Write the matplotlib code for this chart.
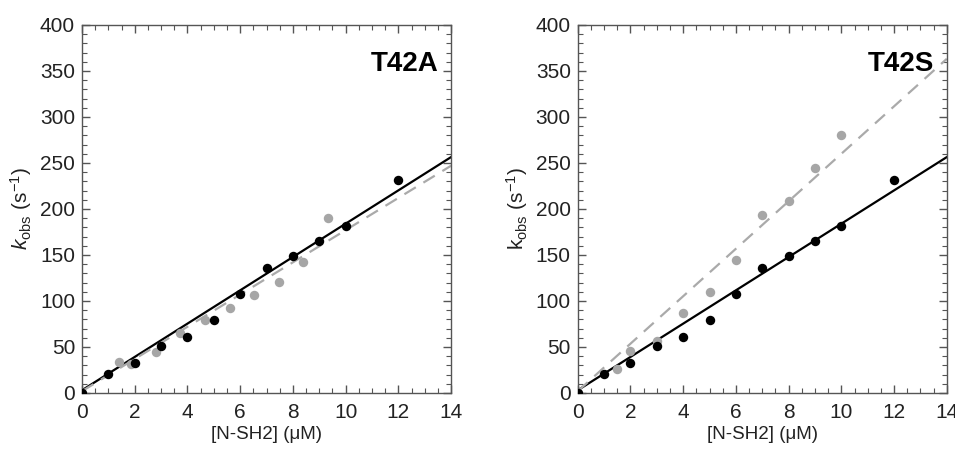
import numpy as np
import matplotlib.pyplot as plt
from matplotlib.ticker import MultipleLocator

plt.rcParams['font.family'] = ['Liberation Sans', 'DejaVu Sans']
plt.rcParams['mathtext.fontset'] = 'custom'
plt.rcParams['mathtext.rm'] = 'Liberation Sans'
plt.rcParams['mathtext.it'] = 'Liberation Sans:italic'

# wild-type reference series (black), same on both panels
wt_x = [0, 1, 2, 3, 4, 5, 6, 7, 8, 9, 10, 12]
wt_k = [0, 20.6, 32.6, 50.7, 61, 79, 108, 136, 149, 165.6, 181, 231]
wt_fit = (18.1, 3.0)  # slope, intercept

# T42A mutant (grey)
a_x = [0, 1.4, 1.87, 2.8, 3.73, 4.67, 5.6, 6.53, 7.47, 8.4, 9.33]
a_k = [0, 34, 32, 45, 65, 79, 92, 106, 121, 142, 190]
a_fit = (17.5, 2.0)

# T42S mutant (grey)
s_x = [0, 1.5, 2, 3, 4, 5, 6, 7, 8, 9, 10]
s_k = [0, 26.4, 46, 56, 87, 110, 144.6, 193.5, 209, 244, 280]
s_fit = (25.8, 2.0)

panels = [("T42A", a_x, a_k, a_fit, True), ("T42S", s_x, s_k, s_fit, False)]
lefts = [0.0859, 0.605]

fig = plt.figure(figsize=(9.55, 4.5), dpi=100)
frame = '#555555'
xx = np.array([0, 14])

for (name, mx, mk, mfit, italic), left in zip(panels, lefts):
    ax = fig.add_axes([left, 0.1267, 0.3864, 0.8178])
    ax.plot(xx, wt_fit[0] * xx + wt_fit[1], color='black', lw=1.6, zorder=2)
    ax.plot(xx, mfit[0] * xx + mfit[1], color='#aaaaaa', lw=1.6,
            ls=(0, (6, 4)), zorder=2)
    ax.plot(mx, mk, 'o', color='#a6a6a6', ms=6.8, mec='none', zorder=3)
    ax.plot(wt_x, wt_k, 'o', color='black', ms=6.8, mec='none', zorder=4)

    ax.set_xlim(0, 14)
    ax.set_ylim(0, 400)
    ax.xaxis.set_major_locator(MultipleLocator(2))
    ax.xaxis.set_minor_locator(MultipleLocator(0.5))
    ax.yaxis.set_major_locator(MultipleLocator(50))
    ax.yaxis.set_minor_locator(MultipleLocator(10))
    ax.tick_params(which='both', direction='in', top=True, right=True,
                   color=frame, labelsize=15, labelcolor='#222222')
    ax.tick_params(which='major', length=6, width=1)
    ax.tick_params(which='minor', length=3.5, width=0.8)
    ax.tick_params(axis='x', pad=7)
    ax.tick_params(axis='y', pad=5)
    for sp in ax.spines.values():
        sp.set_color(frame)
        sp.set_linewidth(1)

    kfmt = r'$\mathit{k}$' if italic else 'k'
    ax.set_ylabel(kfmt + r'$_{\mathrm{obs}}$ (s$^{\mathrm{-1}}$)', fontsize=15,
                  color='#222222', labelpad=4)
    ax.set_xlabel('[N-SH2] (\u03bcM)', fontsize=13.5, color='#222222',
                  labelpad=3)
    ax.text(0.965, 0.895, name, transform=ax.transAxes, ha='right',
            va='center', fontsize=20, fontweight='bold', color='black')

fig.savefig('out.png', dpi=100)
